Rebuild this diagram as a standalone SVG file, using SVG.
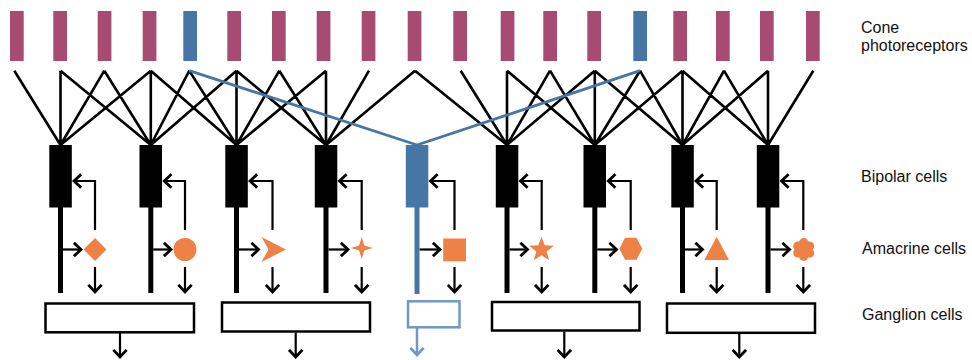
<svg xmlns="http://www.w3.org/2000/svg" width="972" height="360" viewBox="0 0 972 360">
<style>
.cone{fill:#A84B72}
.sc{fill:#4676A6}
.bip{fill:#000}
.axon{stroke:#000;stroke-width:5;fill:none}
.axonb{stroke:#4676A6;stroke-width:5;fill:none}
.syn{stroke:#000;stroke-width:2.6;fill:none}
.synb{stroke:#4676A6;stroke-width:2.8;fill:none}
.arr{stroke:#000;stroke-width:2.2;fill:none;marker-end:url(#ah)}
.arrb{stroke:#6F98C5;stroke-width:2.5;fill:none;marker-end:url(#ahb)}
.am{fill:#EE8246}
.gc{fill:#fff;stroke:#000;stroke-width:2.5}
.gcb{fill:#fff;stroke:#6F98C5;stroke-width:2.5}
.lbl{font-family:"Liberation Sans",Arial,sans-serif;font-size:16px;fill:#111}
</style>
<defs>
<marker id="ah" markerUnits="userSpaceOnUse" markerWidth="11" markerHeight="16" viewBox="0 0 11 16" refX="8.3" refY="8" orient="auto">
<path d="M1.2,1.3 L8.3,8 L1.2,14.7" fill="none" stroke="#000" stroke-width="2.8"/>
</marker>
<marker id="ahb" markerUnits="userSpaceOnUse" markerWidth="11" markerHeight="16" viewBox="0 0 11 16" refX="8.3" refY="8" orient="auto">
<path d="M1.2,1.3 L8.3,8 L1.2,14.7" fill="none" stroke="#6F98C5" stroke-width="2.8"/>
</marker>
</defs>

<g id="connectors">
<path class="syn" d="M14.3,70.7L60.5,145 M60.5,70.7L60.5,145 M104.3,70.7L60.5,145 M150.8,70.7L60.5,145
M60.5,70.7L150.8,145 M104.3,70.7L150.8,145 M150.8,70.7L150.8,145 M189.3,70.7L150.8,145 M236.5,70.7L150.8,145
M150.8,70.7L236.5,145 M189.3,70.7L236.5,145 M236.5,70.7L236.5,145 M279.3,70.7L236.5,145 M326,70.7L236.5,145
M236.5,70.7L326,145 M279.3,70.7L326,145 M326,70.7L326,145 M369,70.7L326,145 M415,70.7L326,145
M415,70.7L507,145 M460.7,70.7L507,145 M507,70.7L507,145 M550,70.7L507,145 M594.8,70.7L507,145
M507,70.7L594.8,145 M550,70.7L594.8,145 M594.8,70.7L594.8,145 M640,70.7L594.8,145 M682.5,70.7L594.8,145
M594.8,70.7L682.5,145 M640,70.7L682.5,145 M682.5,70.7L682.5,145 M724,70.7L682.5,145 M768,70.7L682.5,145
M682.5,70.7L768,145 M724,70.7L768,145 M768,70.7L768,145 M813.3,70.7L768,145"/>
<path class="synb" d="M189.3,70.7L417,145 M640,70.7L417,145"/>

<path class="arr" d="M95,230V181H74"/>
<path class="arr" d="M185,230V181H164.3"/>
<path class="arr" d="M272.5,230V181H250"/>
<path class="arr" d="M361.7,230V181H339.5"/>
<path class="arr" d="M454.5,230V181H430.5"/>
<path class="arr" d="M541.7,230V181H520.5"/>
<path class="arr" d="M630.7,230V181H608.3"/>
<path class="arr" d="M716.7,230V181H696"/>
<path class="arr" d="M803.3,230V181H781.5"/>

<path class="arr" d="M63,249.5H81"/>
<path class="arr" d="M153.3,249.5H171"/>
<path class="arr" d="M239,249.5H258.5"/>
<path class="arr" d="M328.5,249.5H348"/>
<path class="arr" d="M419.5,249.5H440"/>
<path class="arr" d="M509.5,249.5H527.5"/>
<path class="arr" d="M597.3,249.5H616.5"/>
<path class="arr" d="M685,249.5H702.5"/>
<path class="arr" d="M770.5,249.5H789.5"/>

<path class="arr" d="M95,267V292"/>
<path class="arr" d="M185,267V292"/>
<path class="arr" d="M272.5,267V292"/>
<path class="arr" d="M361.7,267V292"/>
<path class="arr" d="M454.5,267V292"/>
<path class="arr" d="M541.7,267V292"/>
<path class="arr" d="M630.7,267V292"/>
<path class="arr" d="M716.7,267V292"/>
<path class="arr" d="M803.3,267V292"/>

<path class="arr" d="M120,333V357"/>
<path class="arr" d="M295.7,332.5V357"/>
<path class="arrb" d="M417,328V355"/>
<path class="arr" d="M564.3,331.5V357"/>
<path class="arr" d="M739.3,333.5V357"/>
</g>

<g id="cones">
<rect class="cone" x="10" y="11" width="13.7" height="50"/>
<rect class="cone" x="53.3" y="11" width="13.7" height="50"/>
<rect class="cone" x="97.7" y="11" width="13.7" height="50"/>
<rect class="cone" x="142.7" y="11" width="13.7" height="50"/>
<rect class="sc" x="183.3" y="11" width="13.7" height="50"/>
<rect class="cone" x="227.3" y="11" width="13.7" height="50"/>
<rect class="cone" x="272" y="11" width="13.7" height="50"/>
<rect class="cone" x="316.7" y="11" width="13.7" height="50"/>
<rect class="cone" x="361.7" y="11" width="13.7" height="50"/>
<rect class="cone" x="407.7" y="11" width="13.7" height="50"/>
<rect class="cone" x="453.3" y="11" width="13.7" height="50"/>
<rect class="cone" x="500.7" y="11" width="13.7" height="50"/>
<rect class="cone" x="543.3" y="11" width="13.7" height="50"/>
<rect class="cone" x="587.3" y="11" width="13.7" height="50"/>
<rect class="sc" x="633.3" y="11" width="13.7" height="50"/>
<rect class="cone" x="673.3" y="11" width="13.7" height="50"/>
<rect class="cone" x="716" y="11" width="13.7" height="50"/>
<rect class="cone" x="760" y="11" width="13.7" height="50"/>
<rect class="cone" x="806" y="11" width="13.7" height="50"/>
</g>

<g id="bipolar-cells">
<g id="bp1"><rect class="bip" x="49.3" y="145" width="22.5" height="62.5"/><path class="axon" d="M60.5,207V293"/></g>
<g id="bp2"><rect class="bip" x="139.5" y="145" width="22.5" height="62.5"/><path class="axon" d="M150.8,207V293"/></g>
<g id="bp3"><rect class="bip" x="225.3" y="145" width="22.5" height="62.5"/><path class="axon" d="M236.5,207V293"/></g>
<g id="bp4"><rect class="bip" x="314.8" y="145" width="22.5" height="62.5"/><path class="axon" d="M326,207V293"/></g>
<g id="bp5"><rect class="sc" x="405.8" y="145" width="22.5" height="62.5"/><path class="axonb" d="M417,207V294"/></g>
<g id="bp6"><rect class="bip" x="495.8" y="145" width="22.5" height="62.5"/><path class="axon" d="M507,207V293"/></g>
<g id="bp7"><rect class="bip" x="583.5" y="145" width="22.5" height="62.5"/><path class="axon" d="M594.8,207V293"/></g>
<g id="bp8"><rect class="bip" x="671.3" y="145" width="22.5" height="62.5"/><path class="axon" d="M682.5,207V293"/></g>
<g id="bp9"><rect class="bip" x="756.8" y="145" width="22.5" height="62.5"/><path class="axon" d="M768,207V293"/></g>
</g>

<g id="amacrine-cells">
<polygon id="am1" class="am" points="95,238 106.5,249.5 95,261 83.5,249.5"/>
<circle id="am2" class="am" cx="185" cy="249.5" r="11.5"/>
<path id="am3" class="am" d="M261.5,237 L286,249.5 L261.5,262 L268.5,249.5 Z"/>
<polygon id="am4" class="am" points="361.7,237 364.3,245.4 372.7,248 364.3,250.6 361.7,259 359.1,250.6 350.7,248 359.1,245.4"/>
<rect id="am5" class="am" x="443.2" y="238.5" width="22.8" height="22.8"/>
<polygon id="am6" class="am" points="541.5,236.7 544.7,245.2 553.9,245.7 546.7,251.4 549.1,260.2 541.5,255.2 533.9,260.2 536.3,251.4 529.1,245.7 538.3,245.2"/>
<polygon id="am7" class="am" points="619.3,248.7 625,237.7 636.5,237.7 642.3,248.7 636.5,259.7 625,259.7"/>
<polygon id="am8" class="am" points="704.3,260 716.7,236.7 729,260"/>
<g id="am9" class="am">
<circle cx="803.7" cy="249.5" r="7"/>
<circle cx="803.7" cy="242.9" r="4.8"/>
<circle cx="809.4" cy="246.2" r="4.8"/>
<circle cx="809.4" cy="252.8" r="4.8"/>
<circle cx="803.7" cy="256.1" r="4.8"/>
<circle cx="798" cy="252.8" r="4.8"/>
<circle cx="798" cy="246.2" r="4.8"/>
</g>
</g>

<g id="ganglion-cells">
<rect id="gc1" class="gc" x="45.5" y="303.5" width="148.5" height="28.8"/>
<rect id="gc2" class="gc" x="222" y="302.5" width="148" height="29"/>
<rect id="gc3" class="gcb" x="408" y="301.3" width="51.5" height="26"/>
<rect id="gc4" class="gc" x="492" y="302" width="147.5" height="28.5"/>
<rect id="gc5" class="gc" x="667" y="303.5" width="148" height="29.3"/>
</g>

<g id="labels">
<text class="lbl" x="861" y="32.5">Cone</text>
<text class="lbl" x="861" y="51">photoreceptors</text>
<text class="lbl" x="861" y="182">Bipolar cells</text>
<text class="lbl" x="862" y="254">Amacrine cells</text>
<text class="lbl" x="862" y="320">Ganglion cells</text>
</g>
</svg>
